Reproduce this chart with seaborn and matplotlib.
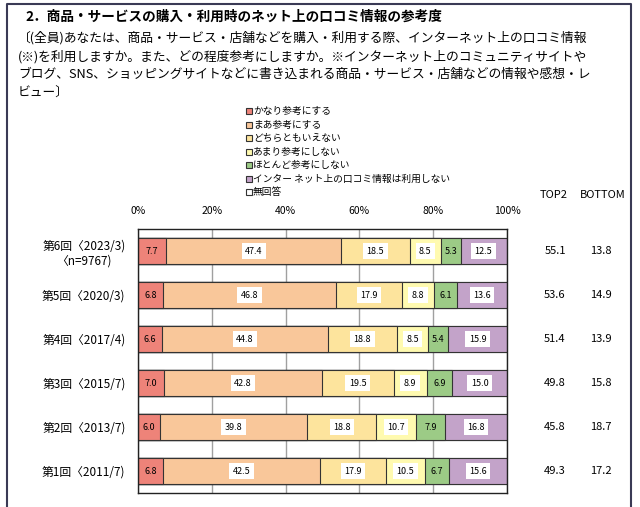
import numpy as np
import pandas as pd
import matplotlib
matplotlib.use("Agg")
import matplotlib.pyplot as plt
from matplotlib.patches import Rectangle
import seaborn as sns

# ---- data ----
rounds = ["第6回〈2023/3)\n〈n=9767)", "第5回〈2020/3)", "第4回〈2017/4)",
          "第3回〈2015/7)", "第2回〈2013/7)", "第1回〈2011/7)"]
categories = ["かなり参考にする", "まあ参考にする", "どちらともいえない", "あまり参考にしない",
              "ほとんど参考にしない", "インター ネット上の口コミ情報は利用しない", "無回答"]
very_much = [7.7, 6.8, 6.6, 7.0, 6.0, 6.8]
somewhat = [47.4, 46.8, 44.8, 42.8, 39.8, 42.5]
neutral = [18.5, 17.9, 18.8, 19.5, 18.8, 17.9]
not_much = [8.5, 8.8, 8.5, 8.9, 10.7, 10.5]
hardly = [5.3, 6.1, 5.4, 6.9, 7.9, 6.7]
not_used = [12.5, 13.6, 15.9, 15.0, 16.8, 15.6]
no_answer = [0.0, 0.0, 0.0, 0.0, 0.0, 0.0]
top2 = ["55.1", "53.6", "51.4", "49.8", "45.8", "49.3"]
bottom2 = ["13.8", "14.9", "13.9", "15.8", "18.7", "17.2"]

colors = ["#EE8379", "#F9C79A", "#FDE49D", "#FFFAB0", "#9CCB86", "#C3A3C9", "#FFFFFF"]

series = [very_much, somewhat, neutral, not_much, hardly, not_used, no_answer]
df = pd.DataFrame(np.array(series).T, columns=categories)
df["round"] = rounds
cum = df[categories].cumsum(axis=1)

plt.rcParams["font.family"] = ["Noto Sans CJK JP", "DejaVu Sans"]

fig = plt.figure(figsize=(6.4, 5.07), dpi=100)
ax = fig.add_axes([138 / 640, 1 - 493 / 507, (507 - 138) / 640, (493 - 229) / 507])

# stacked bars: draw cumulative totals from the last category back to the first
for i in range(len(categories) - 1, -1, -1):
    sns.barplot(x=cum[categories[i]], y=df["round"], color=colors[i], orient="h",
                width=0.58, saturation=1, edgecolor="#333333", linewidth=0.8, ax=ax)

# value labels inside each segment
for r in range(len(rounds)):
    left = 0
    for i, cat in enumerate(categories[:-1]):
        v = df[cat][r]
        x = left + v / 2
        if v >= 8:
            ax.text(x, r, f"{v:.1f}", ha="center", va="center", fontsize=6.5,
                    bbox=dict(facecolor="white", edgecolor="none", pad=2.5))
        else:
            ax.text(x, r, f"{v:.1f}", ha="center", va="center", fontsize=6.5)
        left += v

ax.set_xlim(0, 100)
ax.set_ylim(5.5, -0.5)
ax.set_xticks([0, 20, 40, 60, 80, 100])
ax.set_xticklabels(["0%", "20%", "40%", "60%", "80%", "100%"])
ax.xaxis.tick_top()
ax.tick_params(axis="x", length=0, labelsize=7.5, pad=9)
ax.tick_params(axis="y", length=0, labelsize=8.5, pad=9)
for lab in ax.get_yticklabels():
    lab.set_multialignment("center")
ax.set_xlabel("")
ax.set_ylabel("")
ax.xaxis.grid(True, color="#a0a0a0", linewidth=1)
ax.set_axisbelow(True)
for s in ax.spines.values():
    s.set_color("#222222")
    s.set_linewidth(1)

# TOP2 / BOTTOM columns
fig.text(554 / 640, 1 - 195 / 507, "TOP2", ha="center", va="center", fontsize=8)
fig.text(580 / 640, 1 - 195 / 507, "BOTTOM", ha="left", va="center", fontsize=8)
for r in range(len(rounds)):
    y = ax.transData.transform((0, r))[1] / fig.bbox.height
    fig.text(555 / 640, y, top2[r], ha="center", va="center", fontsize=8)
    fig.text(601 / 640, y, bottom2[r], ha="center", va="center", fontsize=8)

# legend built by hand, one line per category
for i, cat in enumerate(categories):
    y = 1 - (111 + i * 13.5) / 507
    fig.patches.append(Rectangle((246 / 640, y - 3 / 507), 6 / 640, 6 / 507,
                                 transform=fig.transFigure, facecolor=colors[i],
                                 edgecolor="#333333", linewidth=0.8))
    fig.text(253 / 640, y, cat, ha="left", va="center", fontsize=7)

# title and question text
fig.text(25 / 640, 1 - 17 / 507, "2．商品・サービスの購入・利用時のネット上の口コミ情報の参考度",
         ha="left", va="center", fontsize=9.8, fontweight="bold")
lines = ["〔(全員)あなたは、商品・サービス・店舗などを購入・利用する際、インターネット上の口コミ情報",
         "(※)を利用しますか。また、どの程度参考にしますか。※インターネット上のコミュニティサイトや",
         "ブログ、SNS、ショッピングサイトなどに書き込まれる商品・サービス・店舗などの情報や感想・レ",
         "ビュー〕"]
for k, line in enumerate(lines):
    fig.text(18 / 640, 1 - (38 + k * 18.3) / 507, line, ha="left", va="center", fontsize=9.2)

# frame around the whole panel, right side hides the end of "BOTTOM"
fig.patches.append(Rectangle((631 / 640, 0), 9 / 640, 1, transform=fig.transFigure,
                             facecolor="white", edgecolor="none", zorder=5))
fig.lines.append(plt.Line2D([7 / 640, 7 / 640, 631 / 640, 631 / 640],
                            [0, 1 - 4 / 507, 1 - 4 / 507, 0], transform=fig.transFigure,
                            color="#3a3a55", linewidth=1.5, zorder=6))

fig.savefig("out.png", dpi=100)
